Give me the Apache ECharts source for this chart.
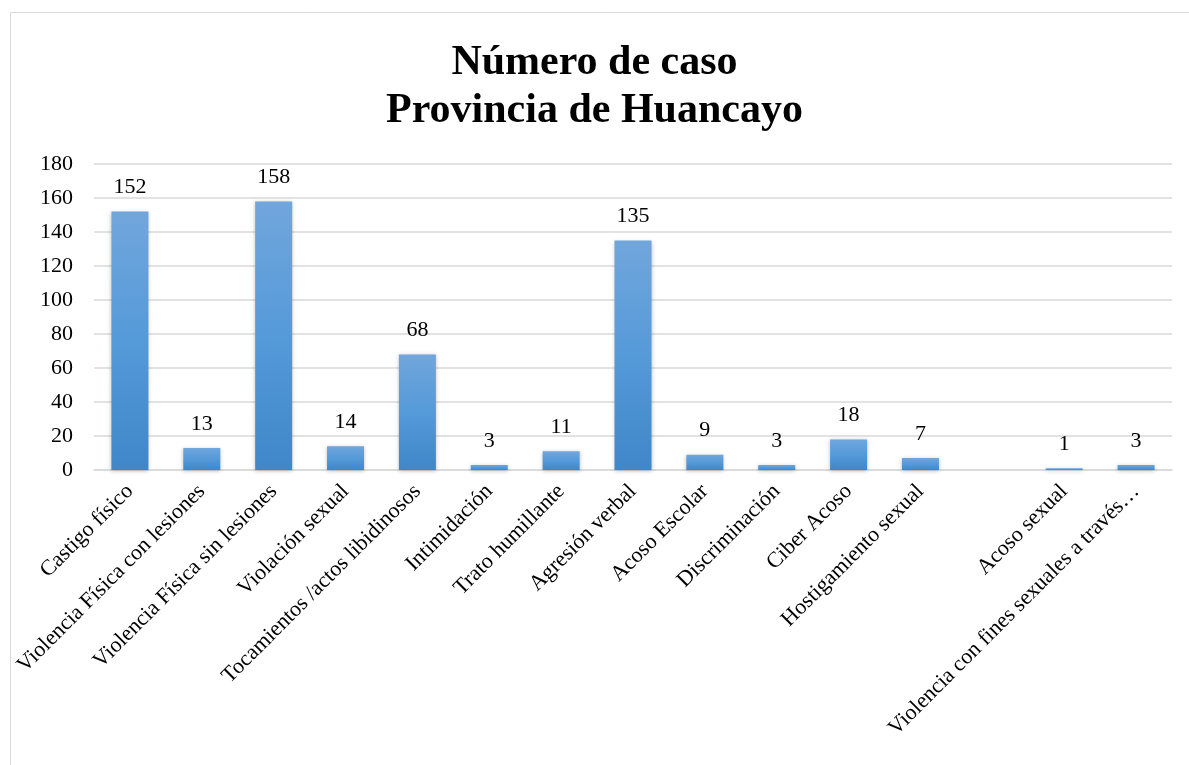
<!DOCTYPE html>
<html>
<head>
<meta charset="utf-8">
<title>Número de caso - Provincia de Huancayo</title>
<script src="https://cdn.jsdelivr.net/npm/echarts@6/dist/echarts.min.js"></script>
<style>
    html, body { margin: 0; padding: 0; background: #fff; }
    #chart { width: 1189px; height: 765px; }
</style>
</head>
<body>
<div id="chart"></div>
<script>
// categorías (la 13ª está vacía en el original)
const categories = [
    'Castigo físico',
    'Violencia Física con lesiones',
    'Violencia Física sin lesiones',
    'Violación sexual',
    'Tocamientos /actos libidinosos',
    'Intimidación',
    'Trato humillante',
    'Agresión verbal',
    'Acoso Escolar',
    'Discriminación',
    'Ciber Acoso',
    'Hostigamiento sexual',
    '',
    'Acoso sexual',
    'Violencia con fines sexuales a través…'
]
// número de casos
const casos = [152, 13, 158, 14, 68, 3, 11, 135, 9, 3, 18, 7, null, 1, 3]
const yTicks = { min: 0, max: 180, interval: 20 }

const serif = '"Liberation Serif", "DejaVu Serif", serif'
const chart = echarts.init(document.getElementById('chart'))

const option = {
    backgroundColor: '#fff',
    animation: false,
    // marco del gráfico
    graphic: [{
        type: 'rect',
        shape: { x: 10.5, y: 12.5, width: 1300, height: 900 },
        style: { fill: 'none', stroke: '#d9d9d9', lineWidth: 1 },
        silent: true
    }],
    title: {
        text: 'Número de caso\nProvincia de Huancayo',
        left: 'center',
        top: 34,
        textStyle: {
            fontFamily: serif,
            fontWeight: 'bold',
            fontSize: 42,
            lineHeight: 48,
            color: '#000'
        }
    },
    grid: {
        left: 94,
        right: 17,
        top: 164,
        bottom: 295,
        containLabel: false
    },
    xAxis: {
        type: 'category',
        data: categories,
        axisLine: { show: true, lineStyle: { color: '#d9d9d9', width: 1.5 } },
        axisTick: { show: false },
        axisLabel: {
            interval: 0,
            rotate: 45,
            margin: 18,
            fontFamily: serif,
            fontSize: 22,
            color: '#000'
        }
    },
    yAxis: {
        type: 'value',
        min: yTicks.min,
        max: yTicks.max,
        interval: yTicks.interval,
        axisLine: { show: false },
        axisTick: { show: false },
        splitLine: { lineStyle: { color: '#d9d9d9', width: 1.5 } },
        axisLabel: {
            margin: 21,
            fontFamily: serif,
            fontSize: 22,
            color: '#000'
        }
    },
    series: [{
        type: 'bar',
        data: casos,
        barWidth: 37,
        itemStyle: {
            color: new echarts.graphic.LinearGradient(0, 0, 0, 1, [
                { offset: 0, color: '#71a6dc' },
                { offset: 0.5, color: '#559ad9' },
                { offset: 1, color: '#3f87c9' }
            ]),
            shadowColor: 'rgba(0,0,0,0.25)',
            shadowBlur: 4,
            shadowOffsetY: 1
        },
        label: {
            show: true,
            position: 'top',
            distance: 13,
            fontFamily: serif,
            fontSize: 22,
            color: '#000'
        }
    }]
}

chart.setOption(option)
</script>
</body>
</html>
